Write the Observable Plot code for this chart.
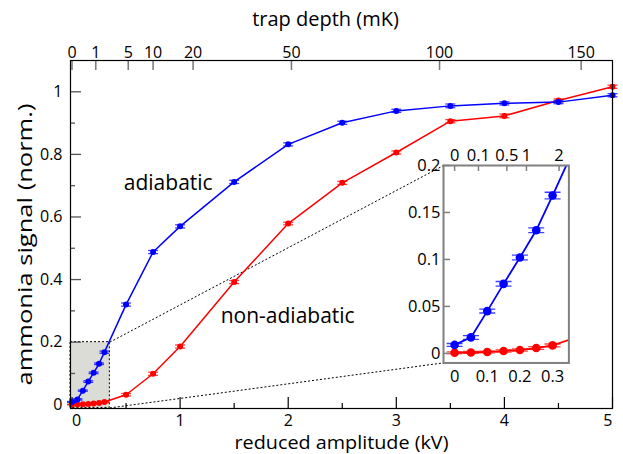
<!DOCTYPE html>
<html><head><meta charset="utf-8">
<script src="https://cdn.jsdelivr.net/npm/d3@7"></script>
<script src="https://cdn.jsdelivr.net/npm/@observablehq/plot@0.6"></script>
<style>
body{margin:0;background:#fff;}
#wrap{position:relative;width:623px;height:454px;font-family:"Open Sans",sans-serif;}
#wrap svg{position:absolute;overflow:visible;background:transparent;}
</style></head><body><div id="wrap"></div>
<script>
// ---- data ----
const amplitude = [0, 0.05, 0.1, 0.15, 0.2, 0.25, 0.3, 0.5, 0.75, 1, 1.5, 2, 2.5, 3, 3.5, 4, 4.5, 5];
const adiabatic = [0.009, 0.017, 0.045, 0.074, 0.102, 0.131, 0.168, 0.32, 0.488, 0.570, 0.712, 0.832, 0.901, 0.939, 0.955, 0.963, 0.967, 0.989];
const adiabaticErr = [0.0015, 0.002, 0.002, 0.0025, 0.0025, 0.0025, 0.0035, 0.005, 0.005, 0.005, 0.005, 0.005, 0.005, 0.005, 0.006, 0.005, 0.005, 0.005];
const nonAdiabatic = [0.0007, 0.001, 0.0015, 0.0025, 0.0036, 0.0057, 0.0085, 0.032, 0.099, 0.186, 0.392, 0.579, 0.709, 0.806, 0.906, 0.923, 0.972, 1.016];
const nonAdiabaticErr = [0.001, 0.001, 0.001, 0.0012, 0.0012, 0.0015, 0.0015, 0.004, 0.005, 0.005, 0.005, 0.004, 0.005, 0.005, 0.005, 0.006, 0.005, 0.005];

const xTicks = [0, 1, 2, 3, 4, 5];
const xMinorTicks = [0.5, 1.5, 2.5, 3.5, 4.5];
const yTicks = [0, 0.2, 0.4, 0.6, 0.8, 1];
const yMinorTicks = [0.1, 0.3, 0.5, 0.7, 0.9];
const trapDepthLabels = [0, 1, 5, 10, 20, 50, 100, 150];
const trapDepthAmp = [0, 0.22, 0.52, 0.75, 1.12, 2.03, 3.40, 4.71];

const insetXTicks = [0, 0.1, 0.2, 0.3];
const insetYTicks = [0, 0.05, 0.1, 0.15, 0.2];
const insetDepthLabels = [0, 0.1, 0.5, 1, 2];
const insetDepthAmp = [0, 0.073, 0.16, 0.22, 0.32];

const seriesNames = ["adiabatic", "non-adiabatic"];
const seriesLabelAmp = [0.89, 1.995];
const seriesLabelSignal = [0.708, 0.282];

const xLabel = "reduced amplitude (kV)";
const yLabel = "ammonia signal (norm.)";
const topLabel = "trap depth (mK)";

const xDomain = [-0.014, 5.0];
const yDomain = [-0.012, 1.1];
const insetAmpDomain = [-0.034, 0.35];
const insetSignalDomain = [-0.0102, 0.2];
// inset placement in main-plot data coordinates
const insetPlaceAmp = [3.44, 4.60];
const insetPlaceSignal = [0.134, 0.765];

const blue = "#0000ff", red = "#ff0000";
const rowsA = amplitude.map((a, i) => ({amp: a, val: adiabatic[i], err: adiabaticErr[i]}));
const rowsN = amplitude.map((a, i) => ({amp: a, val: nonAdiabatic[i], err: nonAdiabaticErr[i]}));
const labelRows = seriesNames.map((s, i) => ({s, amp: seriesLabelAmp[i], val: seriesLabelSignal[i]}));

const hbar = {draw(ctx, size) { const w = Math.sqrt(size / Math.PI); ctx.moveTo(-w, 0); ctx.lineTo(w, 0); }};

function seriesMarks(rows, color, r, sw, capR, clip) {
  return [
    Plot.line(rows, {x: "amp", y: "val", stroke: color, strokeWidth: sw, clip}),
    Plot.ruleX(rows, {x: "amp", y1: d => d.val - d.err, y2: d => d.val + d.err, stroke: color, strokeWidth: 1.2, clip}),
    Plot.dot(rows, {x: "amp", y: d => d.val - d.err, symbol: hbar, r: capR, stroke: color, strokeOpacity: 0.75, strokeWidth: 1.3, fill: "none", clip}),
    Plot.dot(rows, {x: "amp", y: d => d.val + d.err, symbol: hbar, r: capR, stroke: color, strokeOpacity: 0.75, strokeWidth: 1.3, fill: "none", clip}),
    Plot.dot(rows, {x: "amp", y: "val", r, fill: color, stroke: "none", clip})
  ];
}

const W = 623, H = 454, mL = 70, mR = 11, mT = 60, mB = 46;
const fw = W - mL - mR, fh = H - mT - mB;
const font = {fontFamily: "'Open Sans', sans-serif", fontSize: "16px", color: "black", background: "transparent"};
const xInner = xTicks.slice(1, -1), xFirst = xTicks.slice(0, 1), xLast = xTicks.slice(-1);

const main = Plot.plot({
  width: W, height: H, marginLeft: mL, marginRight: mR, marginTop: mT, marginBottom: mB,
  x: {domain: xDomain}, y: {domain: yDomain},
  style: font,
  marks: [
    Plot.rect([0], {x1: () => Math.max(insetAmpDomain[0], xDomain[0]), x2: () => insetAmpDomain[1],
      y1: () => Math.max(insetSignalDomain[0], yDomain[0]), y2: () => insetSignalDomain[1],
      fill: "#dcdcd7", stroke: "black", strokeWidth: 1, strokeDasharray: "2,2"}),
    Plot.link([0], {x1: () => insetAmpDomain[1], y1: () => insetSignalDomain[1], x2: () => insetPlaceAmp[0], y2: () => insetPlaceSignal[1],
      stroke: "black", strokeWidth: 1, strokeDasharray: "2,2"}),
    Plot.link([0], {x1: () => insetAmpDomain[1], y1: () => Math.max(insetSignalDomain[0], yDomain[0]), x2: () => insetPlaceAmp[0], y2: () => insetPlaceSignal[0],
      stroke: "black", strokeWidth: 1, strokeDasharray: "2,2"}),
    Plot.tickX(xTicks, {x: d => d, insetTop: fh - 11, stroke: "black", strokeWidth: 1.2}),
    Plot.tickX(xMinorTicks, {x: d => d, insetTop: fh - 5, stroke: "black", strokeWidth: 1.2}),
    Plot.tickX(trapDepthAmp, {x: d => d, insetBottom: fh - 10, stroke: "#777", strokeWidth: 1.5}),
    Plot.tickY(yTicks, {y: d => d, insetRight: fw - 11, stroke: "#555", strokeWidth: 1.3}),
    Plot.tickY(yMinorTicks, {y: d => d, insetRight: fw - 5, stroke: "#555", strokeWidth: 1.3}),
    ...seriesMarks(rowsN, red, 3, 1.5, 5, false),
    ...seriesMarks(rowsA, blue, 3, 1.5, 5, false),
    Plot.frame({stroke: "black", strokeWidth: 1.2}),
    Plot.axisX(xInner, {tickSize: 0, tickPadding: 6, tickFormat: d => String(d), label: null}),
    Plot.axisX(xFirst, {tickSize: 0, tickPadding: 6, textAnchor: "start", tickFormat: d => String(d), label: null}),
    Plot.axisX(xLast, {tickSize: 0, tickPadding: 6, textAnchor: "end", tickFormat: d => String(d), label: null}),
    Plot.axisX(trapDepthAmp, {anchor: "top", tickSize: 0, tickPadding: 3, tickFormat: d => String(trapDepthLabels[trapDepthAmp.indexOf(d)]), label: null}),
    Plot.axisY(yTicks, {tickSize: 0, tickPadding: 8, tickFormat: d => String(d), label: null}),
    Plot.text([xLabel], {frameAnchor: "bottom", dy: 34, lineAnchor: "middle", fontSize: 19, text: d => d}),
    Plot.text([topLabel], {frameAnchor: "top", dy: -41, dx: -16, lineAnchor: "middle", fontSize: 20, text: d => d}),
    Plot.text([yLabel], {frameAnchor: "left", dx: -45, dy: 10, rotate: -90, textAnchor: "middle", lineAnchor: "middle", fontSize: 20, text: d => d}),
    Plot.text(labelRows, {x: "amp", y: "val", text: "s", fontSize: 21})
  ]
});
main.style.left = "0px"; main.style.top = "0px";
document.getElementById("wrap").appendChild(main);
// the reference's vertical label is stretched along its length
d3.select(main).selectAll("text").filter(function () { return this.textContent === yLabel; })
  .attr("textLength", 282).attr("lengthAdjust", "spacingAndGlyphs");
d3.select(main).selectAll("text").filter(function () { return this.textContent === xLabel; })
  .attr("textLength", 214).attr("lengthAdjust", "spacingAndGlyphs");

const xs = main.scale("x"), ys = main.scale("y");
const bx0 = xs.apply(insetPlaceAmp[0]), bx1 = xs.apply(insetPlaceAmp[1]);
const by0 = ys.apply(insetPlaceSignal[1]), by1 = ys.apply(insetPlaceSignal[0]);
const iw = bx1 - bx0, ih = by1 - by0;
const imL = 44, imR = 6, imT = 26, imB = 28;

const inset = Plot.plot({
  width: iw + imL + imR, height: ih + imT + imB,
  marginLeft: imL, marginRight: imR, marginTop: imT, marginBottom: imB,
  x: {domain: insetAmpDomain}, y: {domain: insetSignalDomain},
  style: {...font, fontSize: "16.5px"},
  marks: [
    Plot.frame({fill: "white", stroke: "none"}),
    ...seriesMarks(rowsN, red, 4.3, 1.8, 8, true),
    ...seriesMarks(rowsA, blue, 4.3, 1.8, 8, true),
    Plot.tickY(insetYTicks, {y: d => d, insetRight: iw - 7, stroke: "#808080", strokeWidth: 1.5}),
    Plot.tickX(insetDepthAmp, {x: d => d, insetBottom: ih - 6, stroke: "#808080", strokeWidth: 1.5}),
    Plot.frame({stroke: "#808080", strokeWidth: 2}),
    Plot.axisX(insetXTicks, {tickSize: 0, tickPadding: 7, tickFormat: d => String(d), label: null}),
    Plot.axisX(insetDepthAmp, {anchor: "top", tickSize: 0, tickPadding: 4, tickFormat: d => String(insetDepthLabels[insetDepthAmp.indexOf(d)]), label: null}),
    Plot.axisY(insetYTicks, {tickSize: 0, tickPadding: 3, tickFormat: d => String(d), label: null})
  ]
});
inset.style.left = (bx0 - imL) + "px"; inset.style.top = (by0 - imT) + "px";
document.getElementById("wrap").appendChild(inset);
</script></body></html>
